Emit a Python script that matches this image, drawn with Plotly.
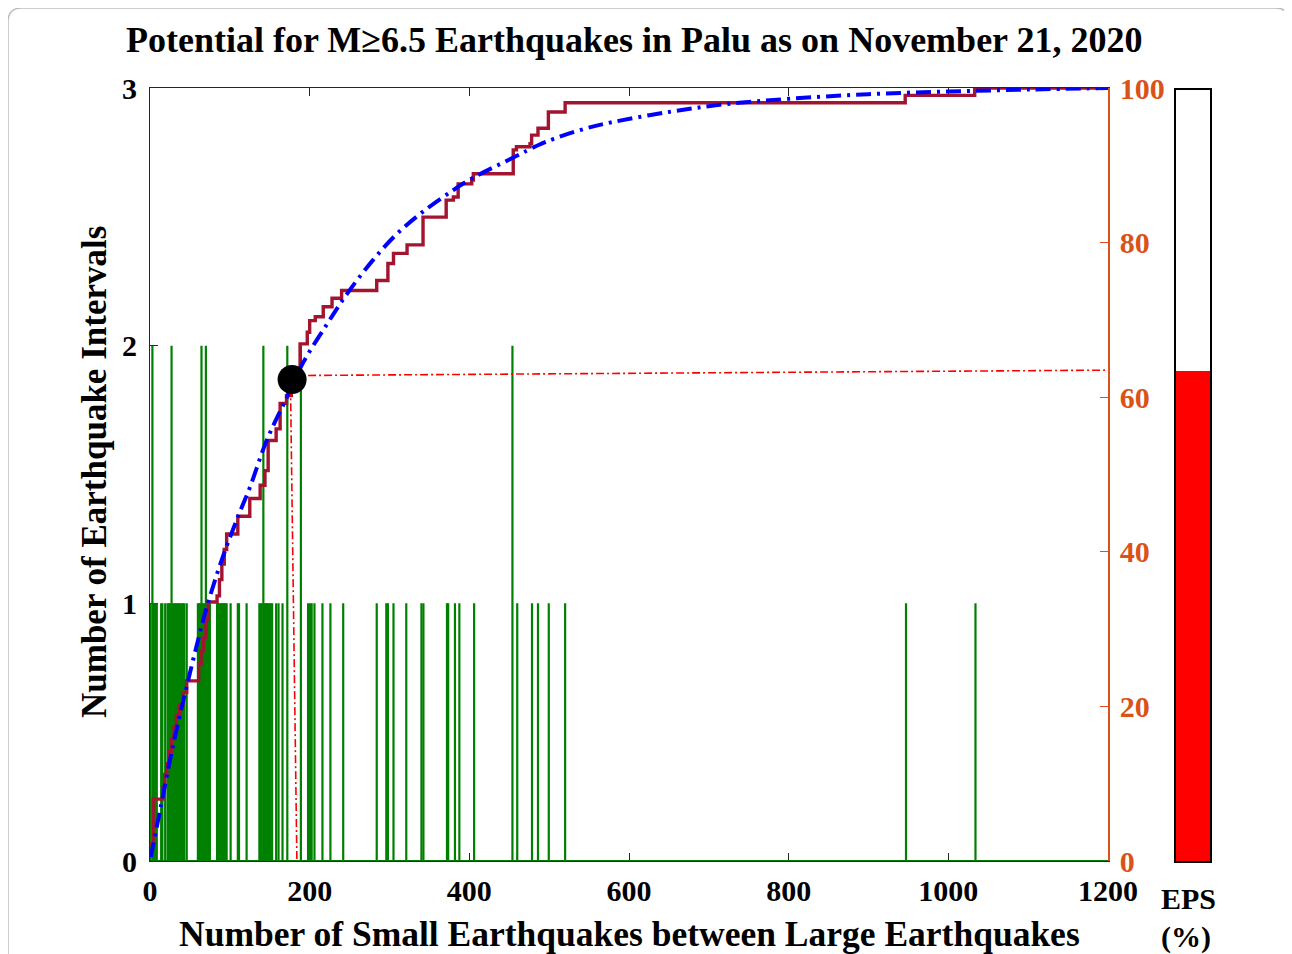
import plotly.graph_objects as go

# ---------------- data ----------------
# histogram of intervals (number of small quakes between large ones)
hist_one_x = [0.5, 4, 5.5, 7, 8.5, 14, 15.5, 19, 22, 23.5, 25, 29, 30.5, 32, 33.5, 35,
              36.5, 38, 40, 41.5, 43, 46, 60, 61.5, 63, 66.5, 68, 72, 73.5, 75, 84, 85.5,
              87, 88.5, 90, 91.5, 93, 94.5, 96, 101, 110, 111.5, 121, 137, 138.5, 140,
              143.5, 145, 146.5, 148, 149.5, 151, 153, 158, 161, 166, 198, 200.5, 202.5,
              206, 216, 226, 242, 284, 296, 298, 305, 321, 340, 342.5, 372, 373.5,
              382, 387.5, 406, 460, 478.5, 486, 499.5, 520, 947, 1034]
hist_two_x = [3, 27, 64.5, 70, 142, 172, 189, 454]

# empirical cumulative distribution (percent), read from the staircase
ecdf_x = [0, 4, 16, 18.5, 21, 24, 27, 30, 33, 37, 41, 46, 61, 64, 67, 70, 73, 84, 87,
          90, 93, 96, 110, 125, 138, 144, 148, 158, 163, 171, 177, 188, 197, 200,
          207, 217, 228, 240, 284, 298, 305, 322, 342, 371, 380, 386, 403, 405,
          455, 459, 476, 478, 486, 499, 520, 946, 1033, 1200]
ecdf_pct = [2.2, 8.0, 9.6, 11.2, 12.6, 14.2, 15.8, 17.3, 18.8, 20.2, 21.8, 23.3, 25.5,
            27.2, 28.9, 31.2, 33.5, 34.3, 36.4, 38.4, 40.3, 42.3, 44.6, 46.9, 48.6,
            50.5, 54.4, 55.9, 59.2, 60.2, 61.5, 66.9, 68.4, 69.9, 70.4, 71.7, 72.8,
            73.8, 75.1, 77.3, 78.6, 79.7, 83.3, 85.5, 85.9, 87.6, 88.1, 88.9, 92.0,
            92.4, 92.8, 93.9, 94.8, 96.9, 98.1, 99.05, 100, 100]

# fitted curve (percent)
fit_x = [1, 12.5, 29, 46, 60, 71, 90, 110, 125, 146.5, 171.6, 192, 222, 247, 279,
         309, 342, 380, 405, 455, 486, 505, 547, 580, 650, 720, 800, 900, 1000,
         1100, 1200]
fit_pct = [0.5, 6.5, 15.0, 22.6, 28.5, 32.8, 39.0, 44.5, 48.3, 54.5, 60.0, 64.5,
           69.5, 73.4, 77.7, 81.1, 84.0, 86.8, 88.4, 91.0, 92.6, 93.4, 94.8, 95.6,
           96.9, 97.9, 98.6, 99.2, 99.55, 99.8, 100]

current_x = 178
current_pct = 62.3
eps_pct = 63.5

title_text = "Potential for M\u22656.5 Earthquakes in Palu as on November 21, 2020"
xlabel = "Number of Small Earthquakes between Large Earthquakes"
ylabel = "Number of Earthquake Intervals"
x_ticks = [0, 200, 400, 600, 800, 1000, 1200]
y_ticks = [0, 1, 2, 3]
y2_ticks = [0, 20, 40, 60, 80, 100]

# ---------------- geometry ----------------
OFF = 8  # page body margin
W, H = 1292 - OFF, 954 - OFF
ML, MT = 150 - OFF, 88 - OFF
MR = W - (1212 - OFF)
MB = H - (861 - OFF)
PW, PH = W - ML - MR, H - MT - MB


def px(xp):  # page pixel -> paper x
    return (xp - OFF - ML) / PW


def py(yp):  # page pixel -> paper y
    return (H - MB - (yp - OFF)) / PH


FONT = "Liberation Serif"
ORANGE = "#D95319"

fig = go.Figure()

# green histogram lines
hx, hy = [], []
for v in hist_one_x:
    hx += [v, v, None]
    hy += [0, 1, None]
for v in hist_two_x:
    hx += [v, v, None]
    hy += [0, 2, None]
hx += [0, 1200]
hy += [0, 0]
fig.add_trace(go.Scatter(x=hx, y=hy, mode="lines", line=dict(color="#008000", width=2.2),
                         xaxis="x", yaxis="y", hoverinfo="skip", showlegend=False))

# staircase
fig.add_trace(go.Scatter(x=ecdf_x, y=ecdf_pct, mode="lines", line_shape="hv",
                         line=dict(color="#A2142F", width=3.4),
                         xaxis="x", yaxis="y2", showlegend=False))

# fitted curve
fig.add_trace(go.Scatter(x=fit_x, y=fit_pct, mode="lines", line_shape="spline",
                         line=dict(color="#0000FF", width=4, dash="15px,6px,3px,6px"),
                         xaxis="x", yaxis="y2", showlegend=False))

# red guide lines
fig.add_trace(go.Scatter(x=[current_x - 2, current_x + 6], y=[current_pct - 1, 0], mode="lines",
                         line=dict(color="#FF0000", width=1.6, dash="8px,3px,2px,3px"),
                         xaxis="x", yaxis="y2", showlegend=False))
fig.add_trace(go.Scatter(x=[current_x, 1200], y=[current_pct + 0.5, eps_pct], mode="lines",
                         line=dict(color="#FF0000", width=1.6, dash="8px,3px,2px,3px"),
                         xaxis="x", yaxis="y2", showlegend=False))

# current point
fig.add_trace(go.Scatter(x=[current_x], y=[current_pct], mode="markers",
                         marker=dict(color="black", size=29),
                         xaxis="x", yaxis="y2", showlegend=False))

# EPS bar
fig.add_trace(go.Bar(x=[0], y=[eps_pct], width=[1], marker=dict(color="#FF0000", line=dict(width=0)),
                     xaxis="x3", yaxis="y3", showlegend=False))

tickfont = dict(family=FONT, size=30, color="black", weight="bold")

fig.update_layout(
    width=W, height=H,
    margin=dict(l=ML, r=MR, t=MT, b=MB),
    paper_bgcolor="white", plot_bgcolor="white",
    bargap=0,
    xaxis=dict(domain=[0, 958 / PW], range=[0, 1200], tickvals=x_ticks,
               ticks="inside", ticklen=8, tickcolor="#262626", showline=True,
               linecolor="#262626", linewidth=1, mirror="ticks", showgrid=False,
               zeroline=False, tickfont=tickfont, layer="below traces", anchor="y",
               ticklabelstandoff=3),
    yaxis=dict(range=[0, 3], tickvals=y_ticks, ticks="inside", ticklen=8,
               tickcolor="#262626", showline=True, linecolor="#262626", linewidth=1,
               showgrid=False, zeroline=False, tickfont=tickfont, layer="below traces",
               anchor="x", ticklabelstandoff=6),
    yaxis2=dict(range=[0, 100], tickvals=y2_ticks, overlaying="y", side="right", anchor="x",
                ticks="inside", ticklen=8, tickcolor=ORANGE, showline=True,
                linecolor=ORANGE, linewidth=1.5, showgrid=False, zeroline=False,
                tickfont=dict(family=FONT, size=30, color=ORANGE, weight="bold"),
                ticklabelstandoff=4),
    xaxis3=dict(domain=[px(1176), px(1210)], range=[-0.5, 0.5], anchor="y3",
                showticklabels=False, ticks="", showline=True, mirror=True,
                linecolor="black", linewidth=2, showgrid=False, zeroline=False),
    yaxis3=dict(domain=[0, min(1, py(90))], range=[0, 100], anchor="x3", showticklabels=False,
                ticks="", showline=True, mirror=True, linecolor="black", linewidth=2,
                showgrid=False, zeroline=False),
)

ann = [
    dict(text=title_text, x=px(634), y=py(40), size=36),
    dict(text=xlabel, x=px(629), y=py(934), size=35.5),
    dict(text="EPS", x=px(1188), y=py(898), size=30),
    dict(text="(%)", x=px(1186), y=py(937), size=30),
]
for a in ann:
    fig.add_annotation(text=a["text"], x=a["x"], y=a["y"], xref="paper", yref="paper",
                       xanchor="center", yanchor="middle", showarrow=False,
                       font=dict(family=FONT, size=a["size"], color="black", weight="bold"))
fig.add_annotation(text=ylabel, x=px(95), y=py(472), xref="paper", yref="paper",
                   xanchor="center", yanchor="middle", showarrow=False, textangle=-90,
                   font=dict(family=FONT, size=35, color="black", weight="bold"))

# outer rounded frame
pts = [(8, 970), (8, 22), (8, 8), (22, 8), (1275, 8), (1289, 8), (1289, 22), (1289, 970)]
c = [(px(a), py(b)) for a, b in pts]
path = (f"M {c[0][0]},{c[0][1]} L {c[1][0]},{c[1][1]} Q {c[2][0]},{c[2][1]} {c[3][0]},{c[3][1]} "
        f"L {c[4][0]},{c[4][1]} Q {c[5][0]},{c[5][1]} {c[6][0]},{c[6][1]} L {c[7][0]},{c[7][1]}")
fig.add_shape(type="path", path=path, xref="paper", yref="paper",
              line=dict(color="#BDBDBD", width=1.5))

fig.write_html("out.html")
